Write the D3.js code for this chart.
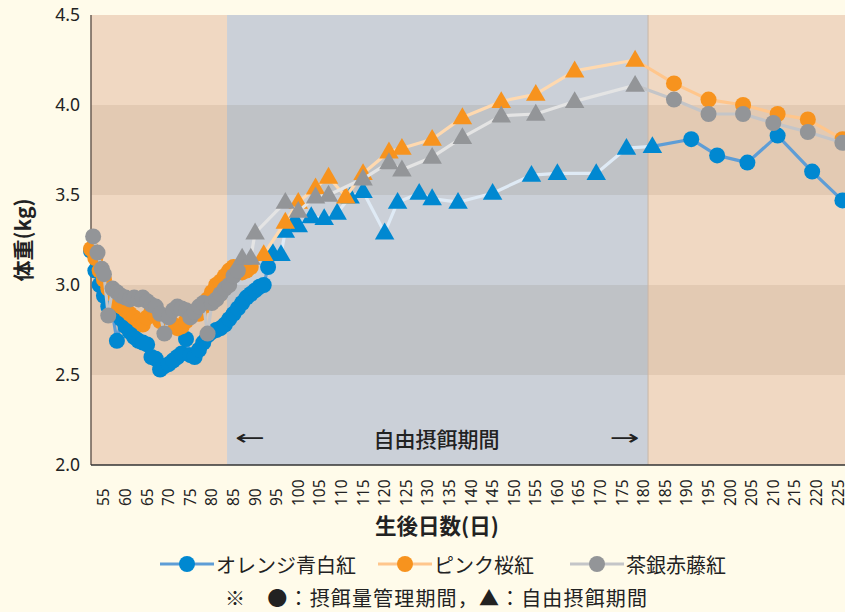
<!DOCTYPE html>
<html><head><meta charset="utf-8">
<script src="https://cdn.jsdelivr.net/npm/d3@7"></script>
<style>
html,body{margin:0;padding:0;background:#FFFBEA;}
svg{display:block;font-family:"Noto Sans CJK JP","Noto Sans",sans-serif;}
</style></head>
<body><svg id="chart" width="845" height="612"></svg>
<script>
// ---- data ----
const seriesNames = ["オレンジ青白紅", "ピンク桜紅", "茶銀赤藤紅"];
const yTicks = [2.0, 2.5, 3.0, 3.5, 4.0, 4.5];
const xTicks = d3.range(55, 226, 5);

const blueDays = [52,53,54,55,56,57,58,59,60,61,62,63,64,65,66,67,68,69,70,71,72,73,74,75,76,77,78,79,80,81,82,83,84,85,86,87,88,89,90,91,92,93,
  94,96,97,99,100,103,106,109,112,115,120,123,128,131,137,145,154,160,169,176,182,
  191,197,204,211,219,226];
const blueValues = [3.19,3.08,3.00,2.94,2.88,2.84,2.69,2.81,2.77,2.74,2.71,2.69,2.68,2.67,2.60,2.59,2.53,2.55,2.56,2.58,2.60,2.62,2.70,2.61,2.60,2.64,2.68,2.72,2.74,2.75,2.76,2.78,2.81,2.84,2.87,2.90,2.93,2.95,2.97,2.99,3.00,3.10,
  3.18,3.17,3.30,3.35,3.33,3.38,3.37,3.40,3.49,3.52,3.29,3.46,3.51,3.48,3.46,3.51,3.61,3.62,3.62,3.76,3.77,
  3.81,3.72,3.68,3.83,3.63,3.47];
const blueFree = [94, 182];

const orangeDays = [52,53,54,55,56,57,58,59,60,61,62,63,64,65,66,67,68,69,70,71,72,73,74,75,76,77,78,79,80,81,82,83,84,85,86,87,88,89,
  92,97,100,104,107,111,115,121,124,131,138,147,155,164,178,
  187,195,203,211,218,226];
const orangeValues = [3.20,3.15,3.08,3.03,2.98,2.95,2.90,2.88,2.86,2.84,2.82,2.80,2.78,2.82,2.85,2.83,2.80,2.79,2.80,2.78,2.76,2.77,2.80,2.83,2.85,2.84,2.88,2.92,2.96,3.00,3.02,3.05,3.08,3.10,3.08,3.07,3.08,3.10,
  3.17,3.35,3.46,3.54,3.60,3.49,3.62,3.74,3.76,3.81,3.93,4.02,4.06,4.19,4.25,
  4.12,4.03,4.00,3.95,3.92,3.81];
const orangeFree = [92, 178];

const grayDays = [52.5,53.5,54.5,55,56,57,58,59,60,61,62,63,64,65,66,67,68,69,70,71,72,73,74,75,76,77,78,79,80,81,82,83,84,85,86,
  87,89,90,97,100,104,107,115,121,124,131,138,147,155,164,178,
  187,195,203,210,218,226];
const grayValues = [3.27,3.18,3.09,3.06,2.83,2.98,2.96,2.94,2.93,2.92,2.93,2.92,2.93,2.91,2.89,2.88,2.84,2.73,2.82,2.86,2.88,2.87,2.86,2.82,2.85,2.88,2.90,2.73,2.90,2.92,2.95,2.98,3.00,3.05,3.08,
  3.15,3.15,3.29,3.46,3.41,3.49,3.50,3.59,3.68,3.64,3.71,3.82,3.94,3.95,4.02,4.11,
  4.03,3.95,3.95,3.90,3.85,3.79];
const grayFree = [87, 178];

const periods = [[52, 83.5, "管理"], [83.5, 181, "自由"], [181, 227, "管理"]];
const darkBands = [[2.5, 3.0], [3.5, 4.0]];
const annotation = "自由摂餌期間";
const noteText = "※　●：摂餌量管理期間，▲：自由摂餌期間";

// ---- styles ----
const W = 845, H = 612;
const m = {left: 91, top: 15, right: 846.7, bottom: 465};
const svg = d3.select("#chart");
const x = d3.scaleLinear().domain([52, 227]).range([m.left, m.right]);
const y = d3.scaleLinear().domain([2.0, 4.5]).range([m.bottom, m.top]);

const regionFill = {"管理": "#F0D8C2", "自由": "#CBD0D8"};
const bandFill = {"管理": "#E3CAB3", "自由": "#BFC2C6"};

const series = [
  {name: seriesNames[0], days: blueDays, vals: blueValues, free: blueFree, marker: "#0088D1", line: "#5E9DD6", pale: "#DFEAF5"},
  {name: seriesNames[1], days: orangeDays, vals: orangeValues, free: orangeFree, marker: "#F7931E", line: "#FFC68C", pale: "#FFD9AF"},
  {name: seriesNames[2], days: grayDays, vals: grayValues, free: grayFree, marker: "#939598", line: "#C4C5C8", pale: "#E4E4E4"}
];

const plot = svg.append("g");

// backgrounds
periods.forEach(p => {
  plot.append("rect").attr("x", x(p[0])).attr("y", y(4.5))
    .attr("width", x(p[1]) - x(p[0])).attr("height", y(2.0) - y(4.5)).attr("fill", regionFill[p[2]]);
  darkBands.forEach(b => {
    plot.append("rect").attr("x", x(p[0])).attr("y", y(b[1]))
      .attr("width", x(p[1]) - x(p[0])).attr("height", y(b[0]) - y(b[1])).attr("fill", bandFill[p[2]]);
  });
});
plot.append("line").attr("x1", x(181)).attr("x2", x(181)).attr("y1", y(4.5)).attr("y2", y(2.0))
  .attr("stroke", "#C9B7A6").attr("stroke-width", 1);

// annotation
const ann = plot.append("g").attr("fill", "#222");
ann.append("text").attr("x", x(88.8)).attr("y", y(2.15)).attr("text-anchor", "middle").attr("dominant-baseline", "central")
  .attr("font-size", 21).attr("font-family", "'DejaVu Sans',sans-serif").attr("textLength", 30).attr("lengthAdjust", "spacingAndGlyphs").text("←");
ann.append("text").attr("x", x(132)).attr("y", y(2.15)).attr("text-anchor", "middle").attr("dominant-baseline", "central")
  .attr("font-size", 21).attr("font-weight", 500).text(annotation);
ann.append("text").attr("x", x(175.6)).attr("y", y(2.15)).attr("text-anchor", "middle").attr("dominant-baseline", "central")
  .attr("font-size", 21).attr("font-family", "'DejaVu Sans',sans-serif").attr("textLength", 30).attr("lengthAdjust", "spacingAndGlyphs").text("→");

// axes lines
plot.append("line").attr("x1", m.left).attr("x2", m.left).attr("y1", m.top).attr("y2", m.bottom).attr("stroke", "#6B5E55").attr("stroke-width", 1.5);
plot.append("line").attr("x1", m.left).attr("x2", W).attr("y1", m.bottom).attr("y2", m.bottom).attr("stroke", "#333").attr("stroke-width", 1.5);

// series
const tri = d3.symbol().type(d3.symbolTriangle).size(165);
const dataG = plot.append("g");
series.forEach(s => {
  const pts = s.days.map((d, i) => ({d, v: s.vals[i], free: d >= s.free[0] && d <= s.free[1]}));
  const g = dataG.append("g");
  for (let i = 1; i < pts.length; i++) {
    const a = pts[i - 1], b = pts[i];
    g.append("line").attr("x1", x(a.d)).attr("y1", y(a.v)).attr("x2", x(b.d)).attr("y2", y(b.v))
      .attr("stroke", (a.free && b.free) ? s.pale : s.line).attr("stroke-width", 3.2).attr("stroke-linecap", "round");
  }
  pts.forEach(p => {
    if (p.free) {
      g.append("path").attr("d", tri).attr("transform", `translate(${x(p.d)},${y(p.v) + 1})`).attr("fill", s.marker);
    } else {
      g.append("circle").attr("cx", x(p.d)).attr("cy", y(p.v)).attr("r", 8).attr("fill", s.marker);
    }
  });
});

// y axis labels
const yAxis = svg.append("g").attr("transform", `translate(${m.left},0)`)
  .call(d3.axisLeft(y).tickValues(yTicks).tickFormat(d3.format(".1f")).tickSize(0).tickPadding(11));
yAxis.select(".domain").remove();
yAxis.selectAll("text").attr("font-size", 17.5).attr("fill", "#222").attr("font-family", "'Noto Sans','Noto Sans CJK JP',sans-serif");

// x axis labels
const xAxis = svg.append("g").attr("transform", `translate(0,${m.bottom})`)
  .call(d3.axisBottom(x).tickValues(xTicks).tickFormat(d3.format("d")).tickSize(0));
xAxis.select(".domain").remove();
xAxis.selectAll("text").attr("font-size", 15.5).attr("fill", "#222")
  .attr("font-family", "'Noto Sans','Noto Sans CJK JP',sans-serif")
  .attr("text-anchor", "start").attr("dy", null).attr("y", 0)
  .attr("transform", "translate(-1,41) rotate(-90)").attr("dominant-baseline", "central");

// axis titles
svg.append("text").attr("transform", `translate(22,${y(3.25)}) rotate(-90)`).attr("text-anchor", "middle")
  .attr("dominant-baseline", "central").attr("font-size", 21).attr("font-weight", 700).attr("fill", "#222").text("体重(kg)");
svg.append("text").attr("x", 437).attr("y", 524).attr("text-anchor", "middle")
  .attr("dominant-baseline", "central").attr("font-size", 21.5).attr("font-weight", 700).attr("fill", "#222").text("生後日数(日)");

// legend
const legX = [160, 378, 570];
series.forEach((s, i) => {
  const lg = svg.append("g").attr("transform", `translate(${legX[i]},564)`);
  lg.append("line").attr("x1", 0).attr("x2", 54).attr("stroke", s.line).attr("stroke-width", 3.2);
  lg.append("circle").attr("cx", 27).attr("r", 8).attr("fill", s.marker);
  lg.append("text").attr("x", 56).attr("dominant-baseline", "central").attr("font-size", 20).attr("fill", "#222").text(s.name);
});
svg.append("text").attr("x", 225).attr("y", 597).attr("dominant-baseline", "central").attr("font-size", 20).attr("fill", "#222")
  .attr("textLength", 422).attr("lengthAdjust", "spacing").text(noteText);
</script></body></html>
